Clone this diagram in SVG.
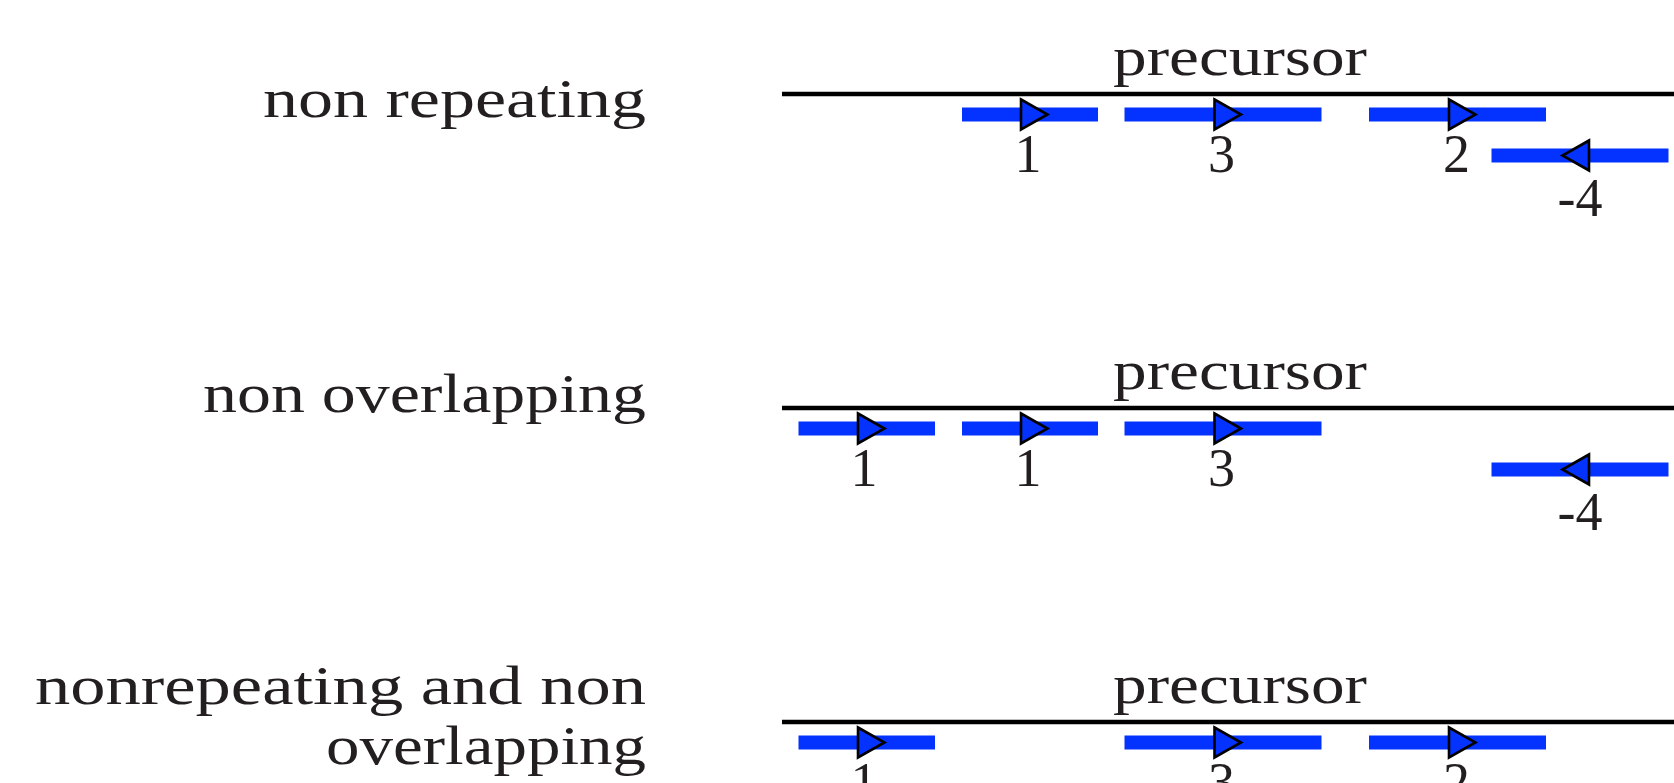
<svg xmlns="http://www.w3.org/2000/svg" width="1674" height="783" viewBox="0 0 1674 783">
  <style>
    text { font-family: "Liberation Serif", "DejaVu Serif", serif; font-size: 54px; fill: #231f20; }
    .lbl { text-anchor: middle; }
    .axis { stroke: #000; stroke-width: 4.5; fill: none; }
    .bar { fill: #0433ff; }
    .arr { fill: #0433ff; stroke: #000; stroke-width: 2.6; stroke-linejoin: miter; }
  </style>
  <defs>
    <polygon id="fwd" class="arr" points="0,-15 26.5,0 0,15"/>
    <polygon id="rev" class="arr" points="0,-15 -26.5,0 0,15"/>
  </defs>
  <rect width="1674" height="783" fill="#fff"/>

  <g id="label-nonrepeating">
    <text x="263" y="117" textLength="383" lengthAdjust="spacingAndGlyphs">non repeating</text>
  </g>
  <g id="label-nonoverlapping">
    <text x="203" y="412" textLength="443" lengthAdjust="spacingAndGlyphs">non overlapping</text>
  </g>
  <g id="label-both">
    <text x="35" y="704" textLength="611" lengthAdjust="spacingAndGlyphs">nonrepeating and non</text>
    <text x="326" y="764" textLength="320" lengthAdjust="spacingAndGlyphs">overlapping</text>
  </g>

  <g id="row1">
    <g id="row1-precursor">
      <text x="1113" y="75" textLength="254" lengthAdjust="spacingAndGlyphs">precursor</text>
      <line class="axis" x1="782" y1="94" x2="1674" y2="94"/>
    </g>
    <g id="row1-seg1">
      <rect class="bar" x="962" y="107.5" width="136" height="14"/>
      <use href="#fwd" x="1021" y="114.5"/>
      <text class="lbl" x="1028" y="172">1</text>
    </g>
    <g id="row1-seg3">
      <rect class="bar" x="1124.5" y="107.5" width="197" height="14"/>
      <use href="#fwd" x="1214.5" y="114.5"/>
      <text class="lbl" x="1221.5" y="172">3</text>
    </g>
    <g id="row1-seg2">
      <rect class="bar" x="1369" y="107.5" width="177" height="14"/>
      <use href="#fwd" x="1449" y="114.5"/>
      <text class="lbl" x="1456.5" y="172">2</text>
    </g>
    <g id="row1-segm4">
      <rect class="bar" x="1491.5" y="148.5" width="177" height="14"/>
      <use href="#rev" x="1589" y="155.5"/>
      <text class="lbl" x="1580" y="216">-4</text>
    </g>
  </g>

  <g id="row2" transform="translate(0,314)">
    <g id="row2-precursor">
      <text x="1113" y="75" textLength="254" lengthAdjust="spacingAndGlyphs">precursor</text>
      <line class="axis" x1="782" y1="94" x2="1674" y2="94"/>
    </g>
    <g id="row2-seg1a">
      <rect class="bar" x="798.5" y="107.5" width="136.5" height="14"/>
      <use href="#fwd" x="858" y="114.5"/>
      <text class="lbl" x="864" y="172">1</text>
    </g>
    <g id="row2-seg1b">
      <rect class="bar" x="962" y="107.5" width="136" height="14"/>
      <use href="#fwd" x="1021" y="114.5"/>
      <text class="lbl" x="1028" y="172">1</text>
    </g>
    <g id="row2-seg3">
      <rect class="bar" x="1124.5" y="107.5" width="197" height="14"/>
      <use href="#fwd" x="1214.5" y="114.5"/>
      <text class="lbl" x="1221.5" y="172">3</text>
    </g>
    <g id="row2-segm4">
      <rect class="bar" x="1491.5" y="148.5" width="177" height="14"/>
      <use href="#rev" x="1589" y="155.5"/>
      <text class="lbl" x="1580" y="216">-4</text>
    </g>
  </g>

  <g id="row3" transform="translate(0,628)">
    <g id="row3-precursor">
      <text x="1113" y="75" textLength="254" lengthAdjust="spacingAndGlyphs">precursor</text>
      <line class="axis" x1="782" y1="94" x2="1674" y2="94"/>
    </g>
    <g id="row3-seg1">
      <rect class="bar" x="798.5" y="107.5" width="136.5" height="14"/>
      <use href="#fwd" x="858" y="114.5"/>
      <text class="lbl" x="864" y="172">1</text>
    </g>
    <g id="row3-seg3">
      <rect class="bar" x="1124.5" y="107.5" width="197" height="14"/>
      <use href="#fwd" x="1214.5" y="114.5"/>
      <text class="lbl" x="1221.5" y="172">3</text>
    </g>
    <g id="row3-seg2">
      <rect class="bar" x="1369" y="107.5" width="177" height="14"/>
      <use href="#fwd" x="1449" y="114.5"/>
      <text class="lbl" x="1456.5" y="172">2</text>
    </g>
  </g>

  <g id="connectors"/>
</svg>
